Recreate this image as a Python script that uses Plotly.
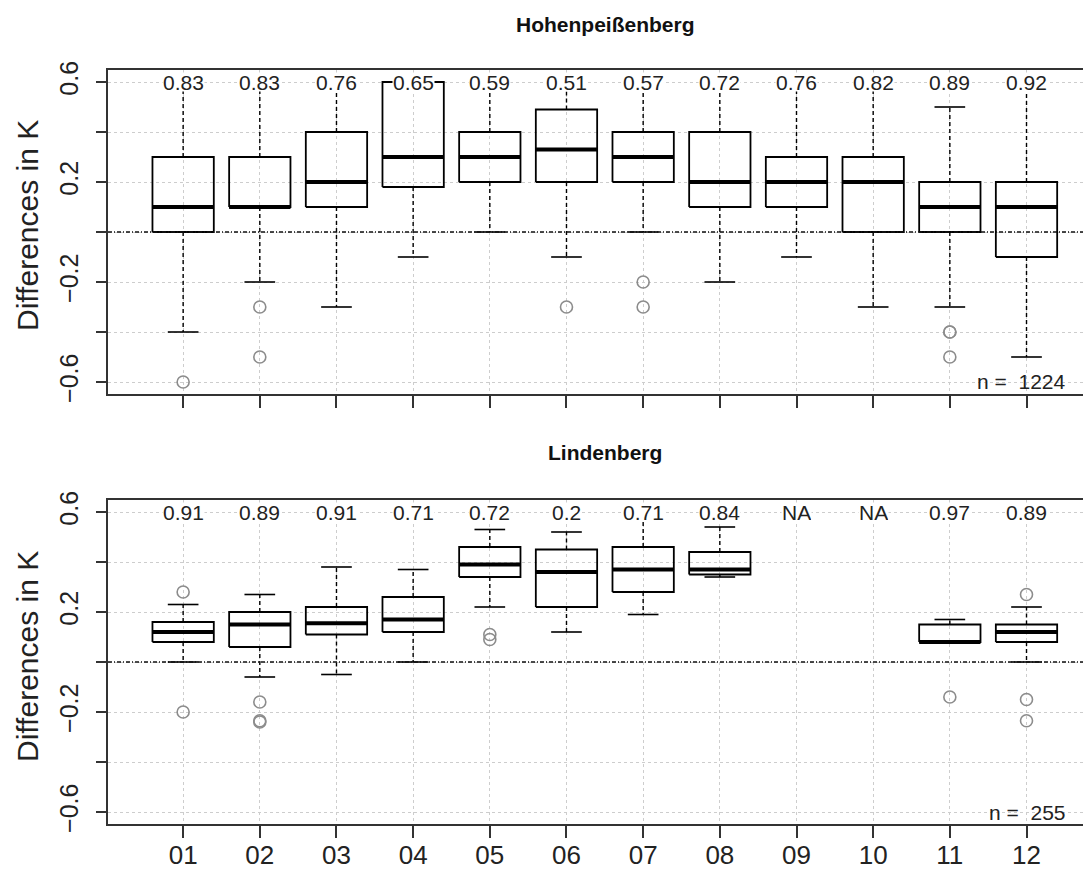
import plotly.graph_objects as go

# ---------------- data ----------------
months = ["01", "02", "03", "04", "05", "06", "07", "08", "09", "10", "11", "12"]

# Hohenpeißenberg
hoh_lo  = [-0.40, -0.20, -0.30, -0.10, 0.00, -0.10, 0.00, -0.20, -0.10, -0.30, -0.30, -0.50]
hoh_q1  = [0.00, 0.10, 0.10, 0.18, 0.20, 0.20, 0.20, 0.10, 0.10, 0.00, 0.00, -0.10]
hoh_med = [0.10, 0.10, 0.20, 0.30, 0.30, 0.33, 0.30, 0.20, 0.20, 0.20, 0.10, 0.10]
hoh_q3  = [0.30, 0.30, 0.40, 0.60, 0.40, 0.49, 0.40, 0.40, 0.30, 0.30, 0.20, 0.20]
hoh_hi  = [0.60, 0.60, 0.60, 0.60, 0.60, 0.60, 0.60, 0.60, 0.60, 0.60, 0.50, 0.60]
hoh_out = [[-0.60], [-0.30, -0.50], [], [], [], [-0.30], [-0.20, -0.30], [], [], [], [-0.40, -0.40, -0.50], []]
hoh_lab = ["0.83", "0.83", "0.76", "0.65", "0.59", "0.51", "0.57", "0.72", "0.76", "0.82", "0.89", "0.92"]
hoh_n = 1224

# Lindenberg
lin_lo  = [0.00, -0.06, -0.05, 0.00, 0.22, 0.12, 0.19, 0.34, None, None, 0.08, 0.00]
lin_q1  = [0.08, 0.06, 0.11, 0.12, 0.34, 0.22, 0.28, 0.35, None, None, 0.08, 0.08]
lin_med = [0.12, 0.15, 0.155, 0.17, 0.39, 0.36, 0.37, 0.37, None, None, 0.08, 0.12]
lin_q3  = [0.16, 0.20, 0.22, 0.26, 0.46, 0.45, 0.46, 0.44, None, None, 0.15, 0.15]
lin_hi  = [0.23, 0.27, 0.38, 0.37, 0.53, 0.52, 0.59, 0.54, None, None, 0.17, 0.22]
lin_out = [[0.28, -0.20], [-0.16, -0.235, -0.24], [], [], [0.11, 0.09], [], [], [], [], [], [-0.14], [0.27, -0.15, -0.235]]
lin_lab = ["0.91", "0.89", "0.91", "0.71", "0.72", "0.2", "0.71", "0.84", "NA", "NA", "0.97", "0.89"]
lin_n = 255

y_ticks = [-0.6, -0.4, -0.2, 0.0, 0.2, 0.4, 0.6]
y_ticktext = ["\u22120.6", "", "\u22120.2", "", "0.2", "", "0.6"]

# ---------------- styling ----------------
FONT = "Liberation Sans, Arial, Helvetica, sans-serif"
BOXW = 0.4      # half box width
CAPW = 0.2      # half staple width
AXC = "#333333"
OFF = 8         # page body margin offset (px)

fig = go.Figure()


def add_panel(lo, q1, med, q3, hi, outs, xa, ya):
    wx, wy, cx, cy, bx, by, mx, my = [], [], [], [], [], [], [], []
    ox, oy = [], []
    for i in range(len(months)):
        x = i + 1
        if med[i] is None:
            continue
        wx += [x, x, None, x, x, None]
        wy += [q3[i], hi[i], None, q1[i], lo[i], None]
        cx += [x - CAPW, x + CAPW, None, x - CAPW, x + CAPW, None]
        cy += [hi[i], hi[i], None, lo[i], lo[i], None]
        bx += [x - BOXW, x + BOXW, x + BOXW, x - BOXW, x - BOXW, None]
        by += [q1[i], q1[i], q3[i], q3[i], q1[i], None]
        mx += [x - BOXW, x + BOXW, None]
        my += [med[i], med[i], None]
        for v in outs[i]:
            ox.append(x)
            oy.append(v)
    common = dict(xaxis=xa, yaxis=ya, showlegend=False, hoverinfo="skip")
    fig.add_trace(go.Scatter(x=wx, y=wy, mode="lines",
                             line=dict(color="black", width=1.4, dash="4px,3px"), **common))
    fig.add_trace(go.Scatter(x=cx, y=cy, mode="lines",
                             line=dict(color="black", width=1.6), **common))
    fig.add_trace(go.Scatter(x=bx, y=by, mode="lines",
                             line=dict(color="black", width=1.8), **common))
    fig.add_trace(go.Scatter(x=mx, y=my, mode="lines",
                             line=dict(color="black", width=4), **common))
    fig.add_trace(go.Scatter(x=ox, y=oy, mode="markers",
                             marker=dict(symbol="circle-open", size=12,
                                         color="#8c8c8c", line=dict(width=1.6)),
                             **common))


add_panel(hoh_lo, hoh_q1, hoh_med, hoh_q3, hoh_hi, hoh_out, "x", "y")
add_panel(lin_lo, lin_q1, lin_med, lin_q3, lin_hi, lin_out, "x2", "y2")

W, H = 1091, 871
left_px = 108 - OFF
x_dom = [left_px / W, 1.0]
x_rng = [0.02, 0.02 + (W - left_px) / 76.67]


def ydom(top_screen, bot_screen):
    return [1 - (bot_screen - OFF) / H, 1 - (top_screen - OFF) / H]


xcommon = dict(range=x_rng, domain=x_dom, tickmode="array",
               tickvals=list(range(1, 13)), ticktext=months,
               showgrid=True, gridcolor="#cdcdcd", griddash="dot", gridwidth=1,
               zeroline=False, showline=True, linecolor=AXC, linewidth=2,
               mirror=True, ticks="outside", ticklen=12, tickwidth=1.6,
               tickcolor=AXC, tickfont=dict(family=FONT, size=26, color="#222222"),
               ticklabelstandoff=-5)
ycommon = dict(range=[-0.648, 0.648], tickmode="array", tickvals=y_ticks,
               ticktext=y_ticktext, tickangle=-90,
               showgrid=True, gridcolor="#cdcdcd", griddash="dot", gridwidth=1,
               zeroline=False, showline=True, linecolor=AXC, linewidth=2,
               mirror=False, ticks="outside", ticklen=10, tickwidth=1.6,
               tickcolor=AXC, tickfont=dict(family=FONT, size=25, color="#222222"),
               ticklabelstandoff=8)

fig.update_layout(
    width=W, height=H,
    margin=dict(l=0, r=0, t=0, b=0, autoexpand=False),
    paper_bgcolor="white", plot_bgcolor="white",
    font=dict(family=FONT, color="#222222"),
    xaxis=dict(anchor="y", showticklabels=False, **xcommon),
    yaxis=dict(anchor="x", domain=ydom(70, 394), **ycommon),
    xaxis2=dict(anchor="y2", showticklabels=True, **xcommon),
    yaxis2=dict(anchor="x2", domain=ydom(500, 824), **ycommon),
)

# zero reference lines
for ya, xa in (("y", "x"), ("y2", "x2")):
    fig.add_shape(type="line", xref=f"{xa} domain", yref=ya, x0=0, x1=1, y0=0, y1=0,
                  line=dict(color="#111111", width=1.4, dash="4px,2px,1px,2px"),
                  layer="above")

anns = []
for labs, xa, ya in ((hoh_lab, "x", "y"), (lin_lab, "x2", "y2")):
    for i, t in enumerate(labs):
        anns.append(dict(x=i + 1, y=0.6, xref=xa, yref=ya, text=t, showarrow=False,
                         font=dict(family=FONT, size=21, color="#222222"),
                         bgcolor="white", borderpad=0, height=18,
                         xanchor="center", yanchor="middle"))
for n, ya in ((hoh_n, "y"), (lin_n, "y2")):
    anns.append(dict(x=(1067 - OFF) / W, y=-0.6, xref="paper", yref=ya,
                     text=f"n =\u00a0 {n}", showarrow=False,
                     font=dict(family=FONT, size=21, color="#222222"),
                     xanchor="right", yanchor="middle"))
for t, yp in (("Hohenpeißenberg", 25), ("Lindenberg", 453)):
    anns.append(dict(x=(605 - OFF) / W, y=1 - (yp - OFF) / H, xref="paper", yref="paper",
                     text=f"<b>{t}</b>", showarrow=False,
                     font=dict(family=FONT, size=21, color="#111111"),
                     xanchor="center", yanchor="middle"))
for yc in (226, 657):
    anns.append(dict(x=(27 - OFF) / W, y=1 - (yc - OFF) / H, xref="paper", yref="paper",
                     text="Differences in K", showarrow=False, textangle=-90,
                     font=dict(family=FONT, size=30, color="#222222"),
                     xanchor="center", yanchor="middle"))
fig.update_layout(annotations=anns)

fig.write_html("out.html")
